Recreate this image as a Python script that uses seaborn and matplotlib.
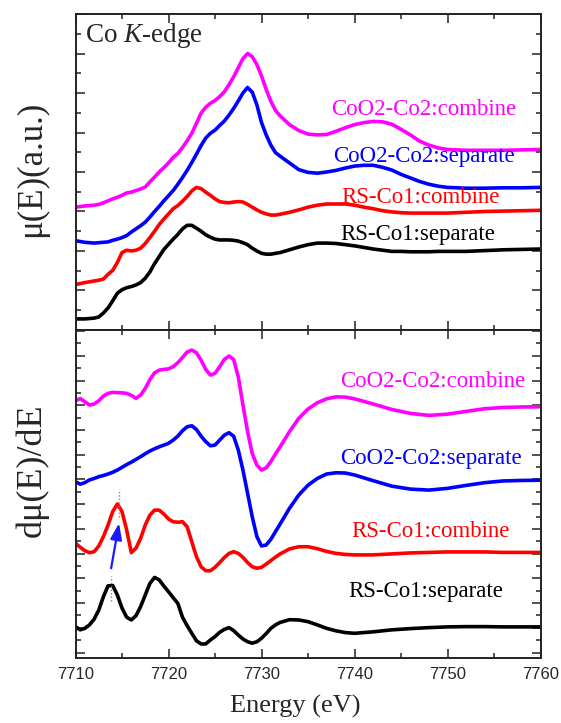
import numpy as np
import pandas as pd
import matplotlib
matplotlib.use("Agg")
import matplotlib.pyplot as plt
from matplotlib.ticker import MultipleLocator
import seaborn as sns

# ---------------- data ----------------
series_names = ["RS-Co1:separate", "RS-Co1:combine", "CoO2-Co2:separate", "CoO2-Co2:combine"]
series_colors = ["#000000", "#FF0000", "#0000FF", "#FF00FF"]

# top panel: mu(E), offset curves
energy_top = [7710, 7711,
              7712, 7712.5, 7713, 7713.5, 7714, 7714.5, 7715, 7715.5, 7716, 7716.5,
              7717, 7717.5, 7718, 7718.5, 7719, 7719.5, 7720, 7720.5, 7721, 7721.5,
              7722, 7722.5, 7723, 7723.5, 7724, 7724.5, 7725, 7725.5, 7726, 7726.5,
              7727, 7727.5, 7728, 7728.5, 7729, 7729.5, 7730, 7730.5, 7731, 7731.5, 7732,
              7733, 7734, 7735, 7736, 7737, 7738, 7739, 7740, 7741, 7742, 7743, 7744,
              7745, 7746, 7747, 7748, 7749, 7750,
              7752, 7754, 7756, 7758, 7760]
mu_rs_sep = [0.28, 0.28,
             0.30, 0.33, 0.43, 0.56, 0.74, 0.93, 1.02, 1.07, 1.10, 1.14,
             1.20, 1.31, 1.47, 1.68, 1.86, 2.04, 2.17, 2.30, 2.42, 2.56,
             2.65, 2.65, 2.58, 2.50, 2.41, 2.35, 2.30, 2.28, 2.28, 2.28,
             2.27, 2.25, 2.21, 2.16, 2.07, 2.00, 1.94, 1.92, 1.92, 1.94, 1.96,
             2.03, 2.10, 2.16, 2.20, 2.20, 2.19, 2.16, 2.13, 2.09, 2.05, 2.02, 1.99,
             1.99, 1.98, 1.98, 1.98, 1.99, 1.99,
             1.99, 2.01, 2.03, 2.04, 2.05]
mu_rs_comb = [1.15, 1.20,
              1.24, 1.26, 1.29, 1.41, 1.51, 1.71, 1.96, 2.02, 2.00, 2.02,
              2.07, 2.19, 2.34, 2.50, 2.67, 2.81, 2.94, 3.07, 3.15, 3.26,
              3.38, 3.52, 3.61, 3.58, 3.49, 3.41, 3.32, 3.25, 3.23, 3.22,
              3.24, 3.25, 3.24, 3.18, 3.11, 3.04, 2.98, 2.94, 2.91, 2.91, 2.93,
              2.98, 3.04, 3.11, 3.16, 3.19, 3.19, 3.19, 3.16, 3.11, 3.07, 3.02, 2.99,
              2.97, 2.96, 2.96, 2.96, 2.96, 2.96,
              2.98, 3.00, 3.01, 3.02, 3.03]
mu_coo2_sep = [2.26, 2.22,
               2.20, 2.21, 2.22, 2.23, 2.27, 2.30, 2.34, 2.39, 2.48, 2.56,
               2.64, 2.73, 2.86, 3.00, 3.13, 3.27, 3.40, 3.53, 3.69, 3.86,
               4.04, 4.24, 4.45, 4.67, 4.86, 4.98, 5.06, 5.18, 5.29, 5.44,
               5.61, 5.80, 6.00, 6.14, 6.02, 5.70, 5.25, 4.94, 4.68, 4.49, 4.40,
               4.23, 4.06, 3.99, 3.97, 4.00, 4.04, 4.10, 4.15, 4.17, 4.17, 4.12, 4.05,
               3.94, 3.85, 3.76, 3.69, 3.64, 3.61,
               3.59, 3.59, 3.60, 3.60, 3.61]
mu_coo2_comb = [3.11, 3.14,
                3.16, 3.18, 3.22, 3.27, 3.32, 3.36, 3.41, 3.47, 3.49, 3.53,
                3.57, 3.62, 3.75, 3.87, 4.00, 4.11, 4.23, 4.37, 4.47, 4.62,
                4.79, 4.98, 5.23, 5.49, 5.64, 5.74, 5.81, 5.91, 6.03, 6.21,
                6.41, 6.64, 6.87, 7.00, 6.92, 6.72, 6.43, 6.09, 5.79, 5.56, 5.42,
                5.20, 5.05, 4.96, 4.94, 4.95, 5.03, 5.12, 5.20, 5.25, 5.28, 5.27, 5.21,
                5.08, 4.94, 4.78, 4.68, 4.61, 4.57,
                4.55, 4.55, 4.55, 4.56, 4.57]

# bottom panel: derivative, offset curves
energy_bot = [7710, 7710.5, 7711, 7711.5, 7712, 7712.5, 7713, 7713.5, 7714, 7714.5, 7715, 7715.5,
              7716, 7716.5, 7717, 7717.5, 7718, 7718.5, 7719, 7719.5, 7720, 7720.5, 7721, 7721.5,
              7722, 7722.5, 7723, 7723.5, 7724, 7724.5, 7725, 7725.5, 7726, 7726.5, 7727, 7727.5,
              7728, 7728.5, 7729, 7729.5, 7730, 7730.5, 7731, 7731.5, 7732, 7733, 7734, 7735,
              7736, 7737, 7738, 7739, 7740, 7742, 7744, 7746, 7748, 7750, 7752, 7754, 7756,
              7758, 7760]
d_rs_sep = [1.05, 0.92, 0.98, 1.12, 1.35, 1.72, 2.26, 2.70, 2.71, 2.33, 1.80, 1.43,
            1.32, 1.49, 1.86, 2.33, 2.80, 3.04, 2.94, 2.69, 2.46, 2.22, 1.99, 1.43,
            1.09, 0.78, 0.48, 0.35, 0.35, 0.51, 0.65, 0.82, 0.94, 1.01, 0.89, 0.71,
            0.55, 0.44, 0.38, 0.44, 0.58, 0.77, 0.98, 1.12, 1.22, 1.33, 1.32, 1.25,
            1.12, 0.98, 0.88, 0.81, 0.78, 0.84, 0.92, 0.97, 1.01, 1.04, 1.05, 1.05, 1.04,
            1.04, 1.04]
d_rs_comb = [4.42, 4.26, 4.12, 4.04, 4.08, 4.31, 4.69, 5.16, 5.70, 6.01, 5.70, 4.96,
             4.04, 4.22, 4.62, 5.16, 5.56, 5.76, 5.76, 5.60, 5.40, 5.29, 5.27, 5.29,
             5.09, 4.48, 3.88, 3.47, 3.31, 3.31, 3.45, 3.64, 3.84, 4.01, 4.08, 4.01,
             3.85, 3.64, 3.47, 3.41, 3.45, 3.58, 3.72, 3.86, 3.99, 4.19, 4.28, 4.28,
             4.20, 4.09, 4.01, 3.97, 3.95, 3.95, 3.99, 4.03, 4.05, 4.07, 4.07, 4.07, 4.05,
             4.05, 4.05]
d_coo2_sep = [6.91, 6.81, 6.87, 6.98, 7.04, 7.11, 7.16, 7.22, 7.29, 7.38, 7.49, 7.60,
              7.70, 7.81, 7.92, 8.04, 8.15, 8.24, 8.32, 8.39, 8.46, 8.59, 8.75, 8.97,
              9.13, 9.17, 9.02, 8.75, 8.53, 8.36, 8.39, 8.59, 8.79, 8.89, 8.75, 8.19,
              7.38, 6.44, 5.49, 4.69, 4.31, 4.35, 4.58, 4.89, 5.20, 5.83, 6.37, 6.77,
              7.04, 7.22, 7.27, 7.26, 7.18, 6.95, 6.73, 6.61, 6.57, 6.64, 6.76, 6.87, 6.94,
              6.96, 6.97]
d_coo2_comb = [10.18, 10.27, 10.14, 10.01, 10.05, 10.18, 10.37, 10.48, 10.52, 10.51, 10.50, 10.48,
               10.40, 10.28, 10.41, 10.68, 11.04, 11.31, 11.42, 11.45, 11.47, 11.56, 11.72, 11.93,
               12.15, 12.23, 12.12, 11.82, 11.45, 11.22, 11.29, 11.56, 11.85, 11.99, 11.85, 11.15,
               10.01, 8.93, 8.05, 7.58, 7.38, 7.47, 7.72, 8.03, 8.32, 8.93, 9.47, 9.85,
               10.10, 10.26, 10.34, 10.33, 10.26, 10.05, 9.83, 9.67, 9.59, 9.64, 9.75, 9.86, 9.91,
               9.93, 9.94]

# label anchor positions (energy, value) for series text
label_top_pos = [(7738.5, 2.43), (7738.6, 3.36), (7737.7, 4.38), (7737.5, 5.57)]
label_bot_pos = [(7739.3, 2.46), (7739.6, 4.89), (7738.4, 7.85), (7738.5, 10.95)]

arrow_tail = (7713.83, 3.41)
arrow_tip = (7714.68, 5.23)
guide_lines = [(7713.8, 2.1, 3.1), (7714.68, 5.5, 6.6)]

# ---------------- style ----------------
sns.set_theme(style="ticks")
plt.rcParams["font.family"] = ["Liberation Serif", "DejaVu Serif"]
plt.rcParams["mathtext.fontset"] = "custom"
plt.rcParams["mathtext.rm"] = "Liberation Serif"
plt.rcParams["mathtext.it"] = "Liberation Serif:italic"

fig = plt.figure(figsize=(5.61, 7.23), dpi=100)
ax_top = fig.add_axes([0.1346, 0.5436, 0.829, 0.437])
ax_bot = fig.add_axes([0.1346, 0.0895, 0.829, 0.454], sharex=ax_top)

df_top = pd.DataFrame({
    "E": energy_top * 4,
    "val": mu_rs_sep + mu_rs_comb + mu_coo2_sep + mu_coo2_comb,
    "series": sum([[n] * len(energy_top) for n in series_names], []),
})
df_bot = pd.DataFrame({
    "E": energy_bot * 4,
    "val": d_rs_sep + d_rs_comb + d_coo2_sep + d_coo2_comb,
    "series": sum([[n] * len(energy_bot) for n in series_names], []),
})
palette = dict(zip(series_names, series_colors))

for ax, df in [(ax_top, df_top), (ax_bot, df_bot)]:
    sns.lineplot(data=df, x="E", y="val", hue="series", hue_order=series_names,
                 palette=palette, legend=False, linewidth=2.6, estimator=None,
                 sort=False, ax=ax, solid_joinstyle="round", solid_capstyle="round")
    ax.set_xlim(7710, 7760)
    ax.xaxis.set_major_locator(MultipleLocator(10))
    ax.xaxis.set_minor_locator(MultipleLocator(5))
    ax.yaxis.set_major_locator(MultipleLocator(1))
    ax.yaxis.set_minor_locator(MultipleLocator(0.5))
    ax.tick_params(which="both", direction="in", top=True, right=True,
                   labelleft=False, width=1.1, color="#222222")
    ax.tick_params(which="major", length=6.5)
    ax.tick_params(which="minor", length=3.8)
    for s in ax.spines.values():
        s.set_linewidth(1.4)
        s.set_color("#222222")
    ax.set_ylabel("")
    ax.set_xlabel("")

ax_top.set_ylim(0, 8.0)
ax_bot.set_ylim(-0.23, 13.04)
ax_top.tick_params(labelbottom=False)
ax_bot.tick_params(axis="x", labelsize=12, pad=6)
for lab in ax_bot.get_xticklabels():
    lab.set_fontfamily(["Liberation Sans", "DejaVu Sans"])

# labels
for (x, y), name, c in zip(label_top_pos, series_names, series_colors):
    ax_top.text(x, y, name, color=c, fontsize=16.5, ha="left", va="center")
for (x, y), name, c in zip(label_bot_pos, series_names, series_colors):
    ax_bot.text(x, y, name, color=c, fontsize=16.5, ha="left", va="center")

ax_top.text(7711.0, 7.46, r"Co $\mathit{K}$-edge", fontsize=19.5, ha="left", va="center")

ax_top.set_ylabel("μ(E)(a.u.)", fontsize=25)
ax_top.yaxis.set_label_coords(-0.058, 0.51)
ax_bot.set_ylabel("dμ(E)/dE", fontsize=26)
ax_bot.yaxis.set_label_coords(-0.058, 0.574)
ax_bot.set_xlabel("Energy (eV)", fontsize=19)
ax_bot.xaxis.set_label_coords(0.473, -0.112)

# arrow and dotted guides
for gx, gy0, gy1 in guide_lines:
    ax_bot.plot([gx, gx], [gy0, gy1], linestyle=(0, (1, 1.5)), color="#888888", linewidth=1.0)
ax_bot.annotate("", xy=arrow_tip, xytext=arrow_tail,
                arrowprops=dict(arrowstyle="-|>,head_length=0.7,head_width=0.25",
                                color="#1a1aff", lw=1.6, shrinkA=0, shrinkB=0,
                                mutation_scale=14))

fig.savefig("out.png", dpi=100)
